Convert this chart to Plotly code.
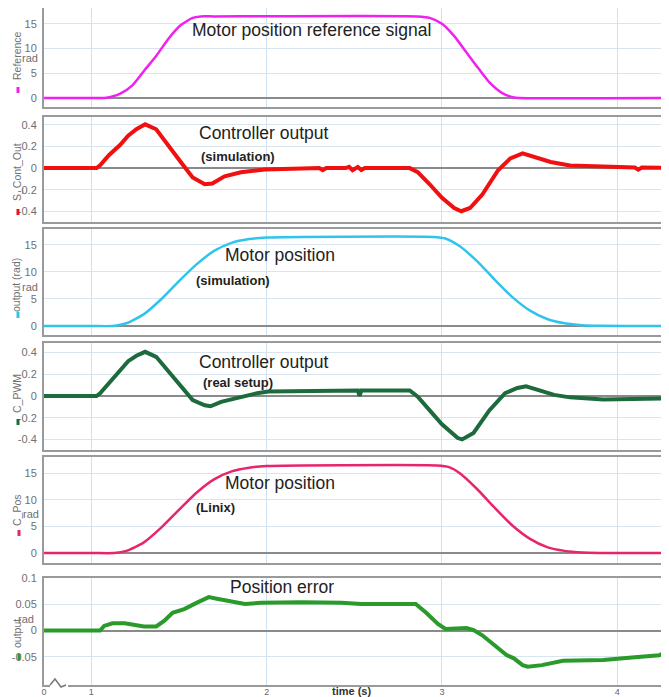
import plotly.graph_objects as go

# ---------------- data ----------------
ref_t = [0, 1.0, 1.073, 1.12, 1.165, 1.234, 1.303, 1.372, 1.44, 1.509, 1.578, 1.624, 1.7, 2.86, 2.93, 3.0, 3.07, 3.14, 3.21, 3.275, 3.344, 3.41, 3.44, 4.3]
ref_v = [0, 0, 0, 0.3, 0.87, 2.56, 5.6, 8.6, 12.0, 14.7, 16.2, 16.5, 16.5, 16.5, 16.2, 15.0, 12.5, 9.2, 5.9, 3.0, 1.0, 0.1, 0, 0]

cs_t = [0, 1.03, 1.05, 1.10, 1.165, 1.21, 1.257, 1.307, 1.37, 1.44, 1.51, 1.578, 1.647, 1.69, 1.76, 1.853, 1.99, 2.2, 2.3, 2.32, 2.34, 2.45, 2.47, 2.49, 2.52, 2.54, 2.56, 2.816, 2.862, 2.93, 3.0, 3.07, 3.11, 3.16, 3.23, 3.32, 3.39, 3.46, 3.53, 3.62, 3.73, 3.92, 4.1, 4.12, 4.14, 4.25, 4.27, 4.3]
cs_v = [0, 0, 0.025, 0.12, 0.216, 0.30, 0.36, 0.406, 0.36, 0.216, 0.057, -0.086, -0.15, -0.143, -0.076, -0.038, -0.013, -0.004, 0, -0.02, 0, 0, 0.012, -0.02, 0.01, -0.018, 0, 0, -0.038, -0.15, -0.276, -0.37, -0.40, -0.37, -0.245, -0.02, 0.09, 0.137, 0.105, 0.057, 0.025, 0.01, 0.005, -0.015, 0.005, 0.003, -0.02, 0]

pos_t = [0, 1.0, 1.12, 1.2, 1.3, 1.4, 1.5, 1.6, 1.7, 1.8, 1.9, 2.0, 2.2, 2.95, 3.02, 3.1, 3.2, 3.3, 3.4, 3.5, 3.6, 3.7, 3.8, 3.9, 4.3]
pos_v = [0, 0, 0, 0.5, 2.2, 5.0, 8.3, 11.4, 13.9, 15.4, 16.1, 16.4, 16.5, 16.5, 16.2, 14.8, 12.0, 8.6, 5.4, 2.9, 1.3, 0.5, 0.15, 0.03, 0]

cr_t = [0, 1.03, 1.05, 1.10, 1.165, 1.21, 1.257, 1.307, 1.37, 1.44, 1.51, 1.578, 1.647, 1.68, 1.74, 1.853, 1.945, 2.01, 2.31, 2.52, 2.53, 2.54, 2.816, 2.862, 2.93, 3.0, 3.09, 3.115, 3.18, 3.27, 3.36, 3.43, 3.48, 3.55, 3.64, 3.73, 3.92, 4.3]
cr_v = [0, 0, 0.025, 0.12, 0.23, 0.32, 0.37, 0.406, 0.36, 0.23, 0.09, -0.038, -0.086, -0.095, -0.054, -0.006, 0.025, 0.04, 0.05, 0.05, 0.0, 0.05, 0.05, -0.006, -0.133, -0.26, -0.387, -0.40, -0.34, -0.133, 0.025, 0.073, 0.089, 0.057, 0.01, -0.013, -0.032, -0.022]

lx_t = [0, 1.0, 1.13, 1.2, 1.3, 1.4, 1.5, 1.6, 1.7, 1.8, 1.9, 2.0, 2.2, 2.97, 3.04, 3.1, 3.2, 3.3, 3.4, 3.5, 3.6, 3.7, 3.8, 3.9, 4.3]
lx_v = [0, 0, 0, 0.4, 2.0, 4.8, 8.1, 11.3, 13.8, 15.3, 16.0, 16.3, 16.4, 16.4, 16.1, 15.0, 12.0, 8.5, 5.2, 2.7, 1.1, 0.4, 0.1, 0.02, 0]

er_t = [0, 1.05, 1.073, 1.12, 1.19, 1.257, 1.30, 1.37, 1.417, 1.463, 1.53, 1.60, 1.67, 1.716, 1.784, 1.876, 1.968, 2.197, 2.427, 2.54, 2.85, 2.91, 2.977, 3.02, 3.14, 3.18, 3.23, 3.30, 3.37, 3.41, 3.46, 3.49, 3.57, 3.69, 3.92, 4.10, 4.24, 4.3]
er_v = [0, 0, 0.009, 0.014, 0.014, 0.011, 0.008, 0.008, 0.019, 0.034, 0.041, 0.053, 0.064, 0.061, 0.056, 0.051, 0.053, 0.054, 0.053, 0.051, 0.051, 0.034, 0.0125, 0.003, 0.005, 0.001, -0.009, -0.028, -0.047, -0.053, -0.066, -0.069, -0.066, -0.0575, -0.056, -0.051, -0.047, -0.039]

x_tickvals = [0.73, 1, 2, 3, 4]
x_ticktext = ["0", "1", "2", "3", "4"]

panels = [
    dict(t=ref_t, v=ref_v, color="#f020f0", width=2.5, rng=[-1.82, 18.2], tv=[0, 5, 10, 15], tt=["0", "5", "10", "15"],
         title="Reference", shape="spline"),
    dict(t=cs_t, v=cs_v, color="#f01010", width=4, rng=[-0.50, 0.474], tv=[-0.4, -0.2, 0, 0.2, 0.4],
         tt=["-0.4", "-0.2", "0", "0.2", "0.4"], title="S_Cont_Out", shape="linear"),
    dict(t=pos_t, v=pos_v, color="#30c4ec", width=2.5, rng=[-1.67, 17.96], tv=[0, 5, 10, 15], tt=["0", "5", "10", "15"],
         title="output (rad)", shape="spline"),
    dict(t=cr_t, v=cr_v, color="#1d6b3c", width=4, rng=[-0.497, 0.487], tv=[-0.4, -0.2, 0, 0.2, 0.4],
         tt=["-0.4", "-0.2", "0", "0.2", "0.4"], title="C_PWM", shape="linear"),
    dict(t=lx_t, v=lx_v, color="#e8246c", width=2.5, rng=[-1.875, 18.0], tv=[0, 5, 10, 15], tt=["0", "5", "10", "15"],
         title="C_Pos", shape="spline"),
    dict(t=er_t, v=er_v, color="#2a9a2a", width=4, rng=[-0.104, 0.1005], tv=[-0.05, 0, 0.05, 0.1],
         tt=["-0.05", "0", "0.05", "0.1"], title="output", shape="linear"),
]

# ---------------- layout helpers ----------------
# the page body has an 8px default margin, so the figure starts at page pixel (8, 8)
OFF = 8
W, H = 669 - OFF, 697 - OFF
ML, MR, MT, MB = 44 - OFF, 0, 0, 12
PW, PH = W - ML - MR, H - MT - MB


def px_x(px):
    return (px - OFF - ML) / PW


def px_y(py):
    return (H - MB - (py - OFF)) / PH


panel_px = [(8, 107), (117, 222), (229, 335), (343, 450), (457, 563), (578, 685)]
title_pos = [(17, 56), (17, 172), (16, 285), (17, 394), (17, 510), (17, 634)]
rad_pos = [(30, 58), None, (30, 287), None, (31, 514), (26, 619)]
mark_pos = [(18, 90), (18, 212), (18, 315), (18, 422), (19, 533), (19, 657)]

fig = go.Figure()
FONT = "Liberation Sans, Arial, sans-serif"
layout = dict(width=W, height=H, margin=dict(l=ML, r=MR, t=MT, b=MB, autoexpand=False),
              paper_bgcolor="white", plot_bgcolor="white", showlegend=False,
              font=dict(family=FONT, size=10, color="#555"))
annotations = []
shapes = []

for i, p in enumerate(panels):
    n = i + 1
    xa = "x" if n == 1 else f"x{n}"
    ya = "y" if n == 1 else f"y{n}"
    fig.add_trace(go.Scatter(x=p["t"], y=p["v"], mode="lines", xaxis=xa, yaxis=ya,
                             line=dict(color=p["color"], width=p["width"], shape=p["shape"], smoothing=0.6)))
    top, bot = panel_px[i]
    layout["xaxis" if n == 1 else f"xaxis{n}"] = dict(
        domain=[0, 1], anchor=ya, range=[0.73, 4.295], tickvals=x_tickvals,
        ticktext=x_ticktext if n == 6 else [""] * 5, showticklabels=(n == 6),
        showgrid=True, gridcolor="#cfe0ee", gridwidth=1, zeroline=False, automargin=False,
        showline=True, linecolor="#9a9a9a", linewidth=2, mirror=True, ticks="",
        tickfont=dict(size=9, color="#666"), ticklabelstandoff=-3, matches=None if n == 1 else "x")
    layout["yaxis" if n == 1 else f"yaxis{n}"] = dict(
        domain=[px_y(bot), px_y(top)], anchor=xa, range=p["rng"], tickvals=p["tv"], ticktext=p["tt"],
        showgrid=True, gridcolor="#d8e4ef", gridwidth=1, zeroline=True, zerolinecolor="#8a8a8a",
        zerolinewidth=1.5, showline=True, linecolor="#9a9a9a", linewidth=2, ticks="", automargin=False,
        tickfont=dict(size=11, color="#707070"), ticklabelstandoff=3)
    tx, ty = title_pos[i]
    annotations.append(dict(xref="paper", yref="paper", x=px_x(tx), y=px_y(ty), text=p["title"],
                            textangle=-90, showarrow=False, font=dict(size=10.5, color="#707070"),
                            xanchor="center", yanchor="middle"))
    if rad_pos[i]:
        rx, ry = rad_pos[i]
        annotations.append(dict(xref="paper", yref="paper", x=px_x(rx), y=px_y(ry), text="rad",
                                showarrow=False, font=dict(size=11, color="#707070"),
                                xanchor="center", yanchor="middle"))
    mx, my = mark_pos[i]
    shapes.append(dict(type="rect", xref="paper", yref="paper", x0=px_x(mx - 1.5), x1=px_x(mx + 1.5),
                       y0=px_y(my + 3), y1=px_y(my - 3), fillcolor=p["color"], line=dict(width=0)))

texts = [
    ("Motor position reference signal", 311, 30, 17.5, False),
    ("Controller output", 264, 133, 17.5, False),
    ("(simulation)", 238, 157, 13, True),
    ("Motor position", 280, 255, 17.5, False),
    ("(simulation)", 233, 280, 13, True),
    ("Controller output", 264, 362, 17.5, False),
    ("(real setup)", 238, 382, 13, True),
    ("Motor position", 280, 483, 17.5, False),
    ("(Linix)", 215, 507, 13, True),
    ("Position error", 282, 587, 17.5, False),
]
for txt, x, y, sz, bold in texts:
    annotations.append(dict(xref="paper", yref="paper", x=px_x(x), y=px_y(y),
                            text=f"<b>{txt}</b>" if bold else txt, showarrow=False,
                            font=dict(size=sz, color="#222", family=FONT),
                            xanchor="center", yanchor="middle"))

annotations.append(dict(xref="paper", yref="paper", x=px_x(351), y=px_y(691), text="<b>time (s)</b>",
                        showarrow=False, font=dict(size=11, color="#333"), xanchor="center", yanchor="middle"))

# axis break symbol at bottom-left
shapes.append(dict(type="rect", xref="paper", yref="paper", x0=px_x(50), x1=px_x(68), y0=px_y(688), y1=px_y(682),
                   fillcolor="white", line=dict(width=0)))
shapes.append(dict(type="path", xref="paper", yref="paper",
                   path=f"M {px_x(50)} {px_y(685)} L {px_x(55)} {px_y(679)} L {px_x(61)} {px_y(687)} L {px_x(66)} {px_y(685)}",
                   line=dict(color="#777", width=1.5)))

layout["annotations"] = annotations
layout["shapes"] = shapes
fig.update_layout(**layout)
fig.write_html("out.html")
